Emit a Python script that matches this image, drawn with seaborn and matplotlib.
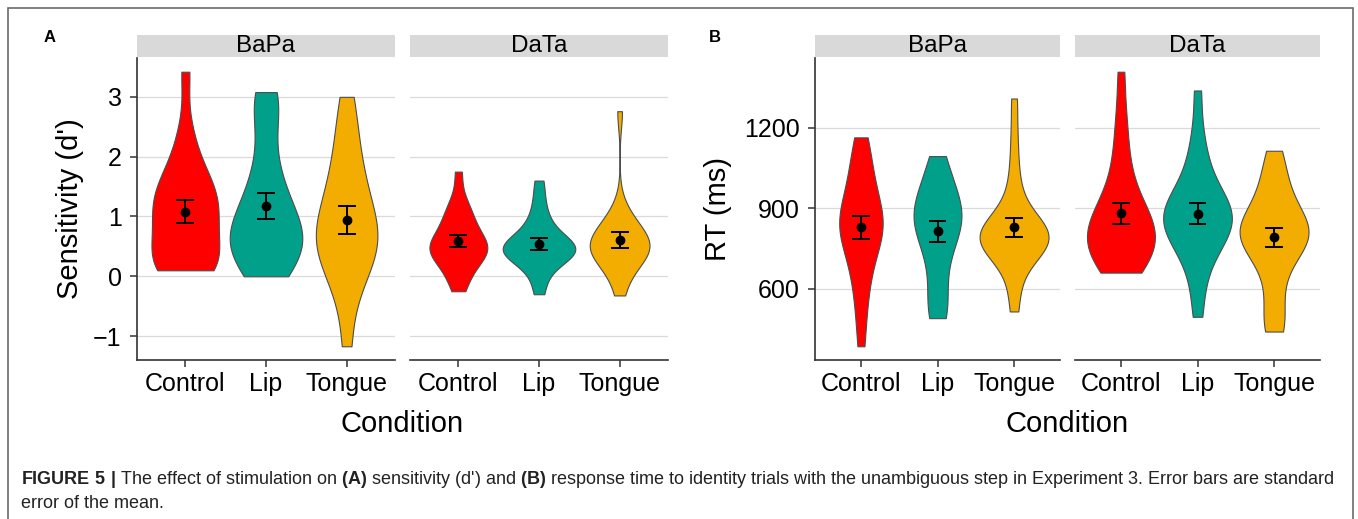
import numpy as np
import pandas as pd
import seaborn as sns
import matplotlib.pyplot as plt
from matplotlib.patches import Rectangle

# Darjeeling1 colours
colores = ["#FF0000", "#00A08A", "#F2AD00"]
condiciones = ["Control", "Lip", "Tongue"]
contrastes = ["BaPa", "DaTa"]

# Panel A: sensitivity (d') per participant
dp_bapa_control = [0.10, 0.11, 0.14, 0.18, 0.24, 0.32, 0.45, 0.62, 0.78, 0.90, 1.00,
                   1.10, 1.20, 1.30, 1.40, 1.50, 1.62, 1.78, 2.05, 2.45, 3.42]
dp_bapa_lip = [0.0, 0.08, 0.20, 0.32, 0.42, 0.50, 0.58, 0.66, 0.74, 0.83,
               0.93, 1.05, 1.20, 1.38, 1.60, 1.85, 2.30, 2.80, 2.95, 3.08]
dp_bapa_tongue = [-1.17, -0.45, -0.10, 0.10, 0.25, 0.38, 0.48, 0.57, 0.66, 0.76,
                  0.88, 1.00, 1.15, 1.32, 1.50, 1.70, 1.95, 2.25, 2.60, 3.00]
dp_data_control = [-0.25, -0.05, 0.05, 0.20, 0.28, 0.35, 0.38, 0.42, 0.46, 0.50,
                   0.54, 0.58, 0.66, 0.74, 0.82, 0.92, 1.05, 1.12, 1.30, 1.75]
dp_data_lip = [-0.30, -0.05, 0.15, 0.25, 0.30, 0.35, 0.38, 0.41, 0.44, 0.47,
               0.50, 0.53, 0.56, 0.60, 0.66, 0.78, 0.90, 1.05, 1.30, 1.60]
dp_data_tongue = [-0.32, -0.05, 0.12, 0.24, 0.32, 0.36, 0.40, 0.43, 0.46, 0.49,
                  0.52, 0.56, 0.61, 0.67, 0.72, 0.80, 0.85, 0.95, 1.15, 2.76]

# Panel B: response time (ms) per participant
rt_bapa_control = [385, 500, 580, 640, 690, 730, 765, 795, 810, 820, 845,
                   850, 870, 895, 920, 950, 985, 1025, 1070, 1120, 1165]
rt_bapa_lip = [490, 505, 560, 620, 690, 740, 775, 800, 825, 848,
               870, 880, 892, 915, 940, 970, 1005, 1045, 1095]
rt_bapa_tongue = [515, 600, 680, 730, 752, 765, 772, 778, 783, 788, 793,
                  798, 804, 811, 820, 832, 850, 900, 960, 1040, 1160, 1310]
rt_data_control = [660, 668, 680, 700, 720, 745, 760, 765, 785, 800, 805, 825,
                   840, 850, 875, 900, 905, 940, 980, 1030, 1090, 1170, 1260, 1410]
rt_data_lip = [495, 600, 680, 730, 765, 780, 795, 820, 845, 850, 865, 870,
               885, 905, 920, 930, 960, 995, 1040, 1100, 1180, 1340]
rt_data_tongue = [440, 455, 500, 570, 640, 690, 725, 755, 770, 780, 790, 800,
                  810, 820, 830, 840, 862, 885, 910, 940, 975, 1020, 1070, 1115]

panel_a = {"BaPa": [dp_bapa_control, dp_bapa_lip, dp_bapa_tongue],
           "DaTa": [dp_data_control, dp_data_lip, dp_data_tongue]}
panel_b = {"BaPa": [rt_bapa_control, rt_bapa_lip, rt_bapa_tongue],
           "DaTa": [rt_data_control, rt_data_lip, rt_data_tongue]}


def tabla(panel):
    filas = []
    for contraste, grupos in panel.items():
        for cond, valores in zip(condiciones, grupos):
            for v in valores:
                filas.append({"contraste": contraste, "condicion": cond, "valor": v})
    return pd.DataFrame(filas)


dfA = tabla(panel_a)
dfB = tabla(panel_b)

plt.rcParams["font.family"] = ["Liberation Sans", "DejaVu Sans"]
plt.rcParams["mathtext.fontset"] = "custom"
plt.rcParams["mathtext.rm"] = "Liberation Sans"
plt.rcParams["mathtext.bf"] = "Liberation Sans:bold"

W, H = 1358, 519
fig = plt.figure(figsize=(W / 100, H / 100), dpi=100)


def caja(x0, y0, x1, y1):
    return [x0 / W, 1 - y1 / H, (x1 - x0) / W, (y1 - y0) / H]


def px(x, y):
    return x / W, 1 - y / H


# outer frame of the figure
fig.patches.append(Rectangle(px(8, 530), (1353 - 8) / W, (530 - 8) / H,
                             transform=fig.transFigure, fill=False,
                             edgecolor="#6b6b6b", linewidth=1.2))

top, bottom = 58, 360
alto = bottom - top


def dibujar_panel(df, facetas, ticks, ylabel, ylab_x, letra, letra_x):
    lo, hi = df["valor"].min(), df["valor"].max()
    pad = 0.05 * (hi - lo)
    for i, (contraste, (x0, x1)) in enumerate(zip(contrastes, facetas)):
        ax = fig.add_axes(caja(x0, top, x1, bottom))
        sub = df[df["contraste"] == contraste]
        sns.violinplot(data=sub, x="condicion", y="valor", hue="condicion",
                       order=condiciones, hue_order=condiciones, palette=colores,
                       saturation=1, cut=0, density_norm="area", common_norm=True,
                       width=0.9, inner=None, linewidth=0.8, linecolor="#4d4d4d",
                       bw_adjust=0.85, legend=False, ax=ax)
        sns.pointplot(data=sub, x="condicion", y="valor", order=condiciones,
                      errorbar="se", color="black", marker="o", markersize=5,
                      linestyle="none", capsize=0.2,
                      err_kws={"linewidth": 1.4}, ax=ax)
        ax.set_xlim(-0.6, 2.6)
        ax.set_ylim(lo - pad, hi + pad)
        ax.set_yticks(ticks)
        ax.set_xlabel("")
        ax.set_ylabel("")
        ax.set_axisbelow(True)
        ax.grid(axis="y", color="#dadada", linewidth=0.9)
        ax.grid(axis="x", visible=False)
        for s in ["top", "right"]:
            ax.spines[s].set_visible(False)
        ax.spines["bottom"].set_color("#333333")
        ax.spines["bottom"].set_linewidth(1.2)
        ax.tick_params(axis="x", length=5, width=1.1, color="#333333",
                       labelsize=18, pad=3.5)
        if i == 0:
            ax.spines["left"].set_color("#333333")
            ax.spines["left"].set_linewidth(1.2)
            ax.tick_params(axis="y", length=5, width=1.1, color="#333333",
                           labelsize=18, pad=6)
            ax.set_yticklabels([str(t).replace("-", "\u2212") for t in ticks])
        else:
            ax.spines["left"].set_visible(False)
            ax.tick_params(axis="y", length=0, labelleft=False)
        # strip
        ax.add_patch(Rectangle((0, 1 + 1 / alto), 1, 22 / alto,
                               transform=ax.transAxes, clip_on=False,
                               facecolor="#d9d9d9", edgecolor="none"))
        ax.text(0.5, 1 + 12 / alto, contraste, transform=ax.transAxes,
                ha="center", va="center", fontsize=17.5)
    centro = (facetas[0][0] + facetas[1][1]) / 2
    fig.text(*px(centro, 424), "Condition", ha="center", va="center", fontsize=21)
    fig.text(*px(ylab_x, (top + bottom) / 2), ylabel, rotation=90,
             ha="center", va="center", fontsize=21)
    fig.text(*px(letra_x, 37), letra, ha="center", va="center",
             fontsize=12, fontweight="bold")


dibujar_panel(dfA, [(137, 395), (410, 668)], [-1, 0, 1, 2, 3],
              "Sensitivity (d')", 70, "A", 50)
dibujar_panel(dfB, [(815, 1060), (1075, 1320)], [600, 900, 1200],
              "RT (ms)", 718, "B", 715)

linea1 = (r"$\mathbf{FIGURE\ 5\ |}$ The effect of stimulation on $\mathbf{(A)}$ "
          r"sensitivity (d') and $\mathbf{(B)}$ response time to identity trials "
          r"with the unambiguous step in Experiment 3. Error bars are standard")
fig.text(*px(21, 480), linea1, ha="left", va="center", fontsize=13, color="#222222")
fig.text(*px(21, 504), "error of the mean.", ha="left", va="center",
         fontsize=13, color="#222222")

fig.savefig("out.png", dpi=100)
